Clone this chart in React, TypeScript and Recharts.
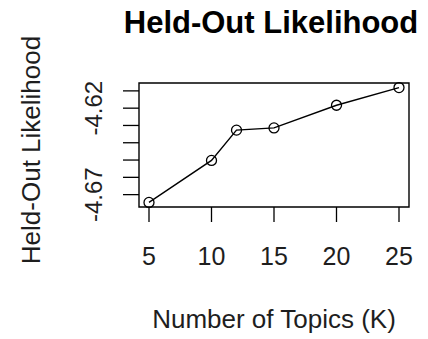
import { LineChart, Line, XAxis, YAxis, ReferenceArea, Customized } from 'recharts'

// Number of topics vs held-out log likelihood
const topics = [5, 10, 12, 15, 20, 25]
const likelihood = [-4.6745, -4.6502, -4.6327, -4.6314, -4.6183, -4.6081]

const xTicks = [5, 10, 15, 20, 25]
const yTicks = [-4.67, -4.66, -4.65, -4.64, -4.63, -4.62, -4.61]
const yTickLabels = ['-4.62', '-4.67']

const data = topics.map((k, i) => ({ k, ll: likelihood[i] }))

// R style axis ranges: data range padded by 4% on each side
const pad = (lo: number, hi: number): [number, number] => {
  const d = (hi - lo) * 0.04
  return [lo - d, hi + d]
}
const xDomain = pad(Math.min(...topics), Math.max(...topics))
const yDomain = pad(Math.min(...likelihood), Math.max(...likelihood))

const FONT = '"Liberation Sans", Arial, sans-serif'
const INK = '#1e1e1e'

const XTick = (props: any) => {
  const { x, y, payload } = props
  return (
    <text x={x} y={y} dy="0.71em" textAnchor="middle" fontSize={25} fontFamily={FONT} fill={INK}>
      {payload.value}
    </text>
  )
}

const YTick = (props: any) => {
  const { x, y, payload } = props
  const label = Number(payload.value).toFixed(2)
  if (!yTickLabels.includes(label)) return null
  return (
    <text
      x={x}
      y={y}
      transform={`rotate(-90 ${x} ${y})`}
      textAnchor="middle"
      fontSize={24}
      fontFamily={FONT}
      fill={INK}
    >
      {label}
    </text>
  )
}

const Titles = () => (
  <g fontFamily={FONT}>
    <text x={271} y={33} textAnchor="middle" fontSize={31} fontWeight="bold" fill="#000">
      Held-Out Likelihood
    </text>
    <text x={274} y={328} textAnchor="middle" fontSize={26} fill={INK}>
      Number of Topics (K)
    </text>
    <text x={40} y={150} transform="rotate(-90 40 150)" textAnchor="middle" fontSize={26} fill={INK}>
      Held-Out Likelihood
    </text>
  </g>
)

export default function App() {
  return (
    <div style={{ position: 'absolute', left: 0, top: 0, width: 428, height: 339, background: '#fff' }}>
      <LineChart width={428} height={339} data={data} margin={{ top: 83, right: 19, bottom: 72, left: 0 }}>
        <XAxis
          dataKey="k"
          type="number"
          domain={xDomain}
          ticks={xTicks}
          axisLine={false}
          tickLine={{ stroke: '#000', strokeWidth: 1.3 }}
          tickSize={15}
          tickMargin={25}
          height={60}
          tick={<XTick />}
          interval={0}
        />
        <YAxis
          type="number"
          domain={yDomain}
          ticks={yTicks}
          axisLine={false}
          tickLine={{ stroke: '#000', strokeWidth: 1.3 }}
          tickSize={16}
          tickMargin={21}
          width={139}
          tick={<YTick />}
          interval={0}
        />
        <ReferenceArea
          x1={xDomain[0]}
          x2={xDomain[1]}
          y1={yDomain[0]}
          y2={yDomain[1]}
          fill="none"
          fillOpacity={0}
          stroke="#000"
          strokeWidth={1.4}
          strokeOpacity={1}
        />
        <Line
          dataKey="ll"
          type="linear"
          stroke="#000"
          strokeWidth={1.4}
          dot={{ r: 5, fill: 'none', stroke: '#000', strokeWidth: 1.3 }}
          isAnimationActive={false}
        />
        <Customized component={Titles} />
      </LineChart>
    </div>
  )
}
